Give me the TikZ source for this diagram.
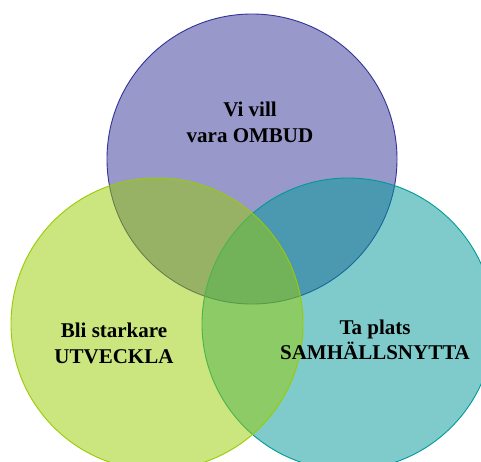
\documentclass[tikz,border=0pt]{standalone}
\usepackage{fontspec}
\setmainfont{Liberation Serif}
\definecolor{cpurple}{RGB}{51,51,153}
\definecolor{cteal}{RGB}{0,153,153}
\definecolor{cgreen}{RGB}{153,204,0}
\begin{document}
\begin{tikzpicture}[x=1pt,y=-1pt,
  venn/.style={fill opacity=0.5, line width=0.9pt},
  vtext/.style={font=\bfseries\fontsize{21}{25.5}\selectfont, align=center, inner sep=0pt, text=black}]
\useasboundingbox (0,0) rectangle (481,461);
\clip (0,0) rectangle (481,461);
\fill[white] (0,0) rectangle (481,461);
\draw[venn, fill=cpurple, draw=cpurple] (252,159) circle[radius=145];
\draw[venn, fill=cteal, draw=cteal] (348,324) circle[radius=146];
\draw[venn, fill=cgreen, draw=cgreen] (157,324) circle[radius=146];
\node[vtext] (ombud) at (250,122.5) {Vi vill\\vara OMBUD};
\node[vtext] (utveckla) at (114,343.5) {Bli starkare\\UTVECKLA};
\node[vtext] (samhalle) at (375,340) {Ta plats\\SAMHÄLLSNYTTA};
\end{tikzpicture}
\end{document}
